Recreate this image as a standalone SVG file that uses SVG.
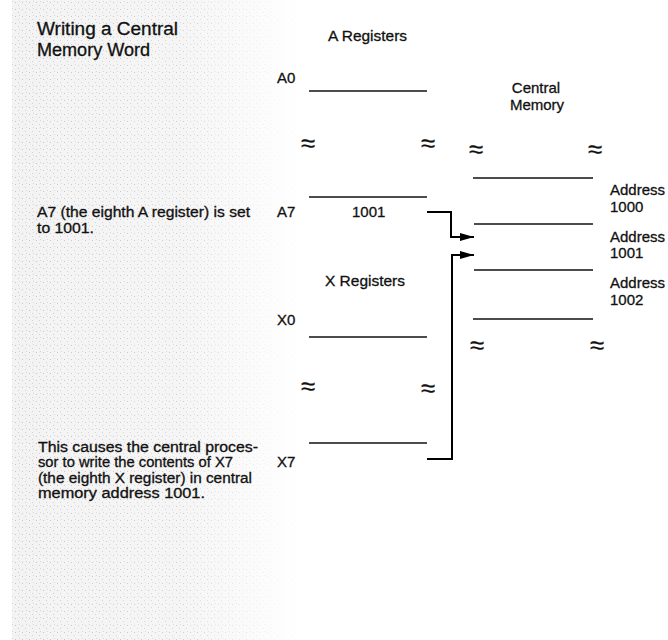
<svg xmlns="http://www.w3.org/2000/svg" width="668" height="640" viewBox="0 0 668 640">
<defs>
<pattern id="dots" x="0" y="0" width="7" height="7" patternUnits="userSpaceOnUse">
<rect x="1" y="2" width="1" height="1" fill="#c4c4c4"/>
<rect x="4" y="5" width="1" height="1" fill="#cfcfcf"/>
<rect x="5" y="1" width="1" height="1" fill="#d6d6d6"/>
</pattern>
<linearGradient id="fade" x1="0" y1="0" x2="1" y2="0">
<stop offset="0" stop-color="#fff" stop-opacity="1"/>
<stop offset="0.6" stop-color="#fff" stop-opacity="0.8"/>
<stop offset="1" stop-color="#fff" stop-opacity="0"/>
</linearGradient>
<mask id="m">
<rect x="12" y="0" width="290" height="640" fill="url(#fade)"/>
</mask>
<marker id="ah" viewBox="0 0 14 8" refX="14" refY="4" markerWidth="14" markerHeight="8" markerUnits="userSpaceOnUse" orient="auto">
<path d="M0,0 L14,4 L0,8 Z" fill="#000"/>
</marker>
<style>
text{font-family:"Liberation Sans",Arial,sans-serif;fill:#111;stroke:#111;stroke-width:0.3}
.t{font-size:18px}
.n{font-size:14px}
.l{font-size:15px}
.s{font-size:26px;text-anchor:middle;stroke-width:0.2}
.reg{stroke:#111;stroke-width:1.4;fill:none}
.con{stroke:#000;stroke-width:2;fill:none}
</style>
</defs>
<rect x="0" y="0" width="668" height="640" fill="#fff"/>
<g mask="url(#m)">
<rect x="12" y="0" width="290" height="640" fill="#f3f3f3"/>
<rect x="12" y="0" width="290" height="640" fill="url(#dots)"/>
</g>

<g id="title">
<text class="t" x="37" y="35" textLength="141" lengthAdjust="spacingAndGlyphs">Writing a Central</text>
<text class="t" x="37" y="56" textLength="113" lengthAdjust="spacingAndGlyphs">Memory Word</text>
</g>

<g id="note-a7">
<text class="n" x="37" y="217" textLength="213" lengthAdjust="spacingAndGlyphs">A7 (the eighth A register) is set</text>
<text class="n" x="37" y="233" textLength="57" lengthAdjust="spacingAndGlyphs">to 1001.</text>
</g>

<g id="note-x7">
<text class="n" x="38" y="452" textLength="220" lengthAdjust="spacingAndGlyphs">This causes the central proces-</text>
<text class="n" x="38" y="467" textLength="195" lengthAdjust="spacingAndGlyphs">sor to write the contents of X7</text>
<text class="n" x="38" y="483" textLength="214" lengthAdjust="spacingAndGlyphs">(the eighth X register) in central</text>
<text class="n" x="38" y="498" textLength="167" lengthAdjust="spacingAndGlyphs">memory address 1001.</text>
</g>

<g id="a-registers">
<text class="l" x="328" y="41" textLength="79" lengthAdjust="spacingAndGlyphs">A Registers</text>
<text class="l" x="277" y="83">A0</text>
<line class="reg" x1="309" y1="91" x2="427" y2="91"/>
<text class="s" x="308" y="152">≈</text>
<text class="s" x="428" y="152">≈</text>
<line class="reg" x1="309" y1="197" x2="427" y2="197"/>
<text class="l" x="277" y="217">A7</text>
<text class="l" x="352" y="217">1001</text>
</g>

<g id="central-memory">
<text class="l" x="536" y="93" text-anchor="middle">Central</text>
<text class="l" x="537" y="110" text-anchor="middle">Memory</text>
<text class="s" x="476" y="158">≈</text>
<text class="s" x="595" y="158">≈</text>
<line class="reg" x1="473" y1="178" x2="593" y2="178"/>
<text class="l" x="610" y="195">Address</text>
<text class="l" x="610" y="212">1000</text>
<line class="reg" x1="474" y1="224" x2="593" y2="224"/>
<text class="l" x="610" y="242">Address</text>
<text class="l" x="610" y="258">1001</text>
<line class="reg" x1="474" y1="270" x2="593" y2="270"/>
<text class="l" x="610" y="288">Address</text>
<text class="l" x="610" y="305">1002</text>
<line class="reg" x1="473" y1="319" x2="593" y2="319"/>
<text class="s" x="477" y="354">≈</text>
<text class="s" x="597" y="354">≈</text>
</g>

<g id="x-registers">
<text class="l" x="325" y="286" textLength="80" lengthAdjust="spacingAndGlyphs">X Registers</text>
<text class="l" x="277" y="325">X0</text>
<line class="reg" x1="309" y1="337" x2="427" y2="337"/>
<text class="s" x="308" y="395">≈</text>
<text class="s" x="428" y="397">≈</text>
<line class="reg" x1="309" y1="443" x2="427" y2="443"/>
<text class="l" x="277" y="467">X7</text>
</g>

<g id="connectors">
<path class="con" d="M427,212 H451 V237 H474" marker-end="url(#ah)"/>
<path class="con" d="M427,459 H452 V255 H474" marker-end="url(#ah)"/>
</g>
</svg>
